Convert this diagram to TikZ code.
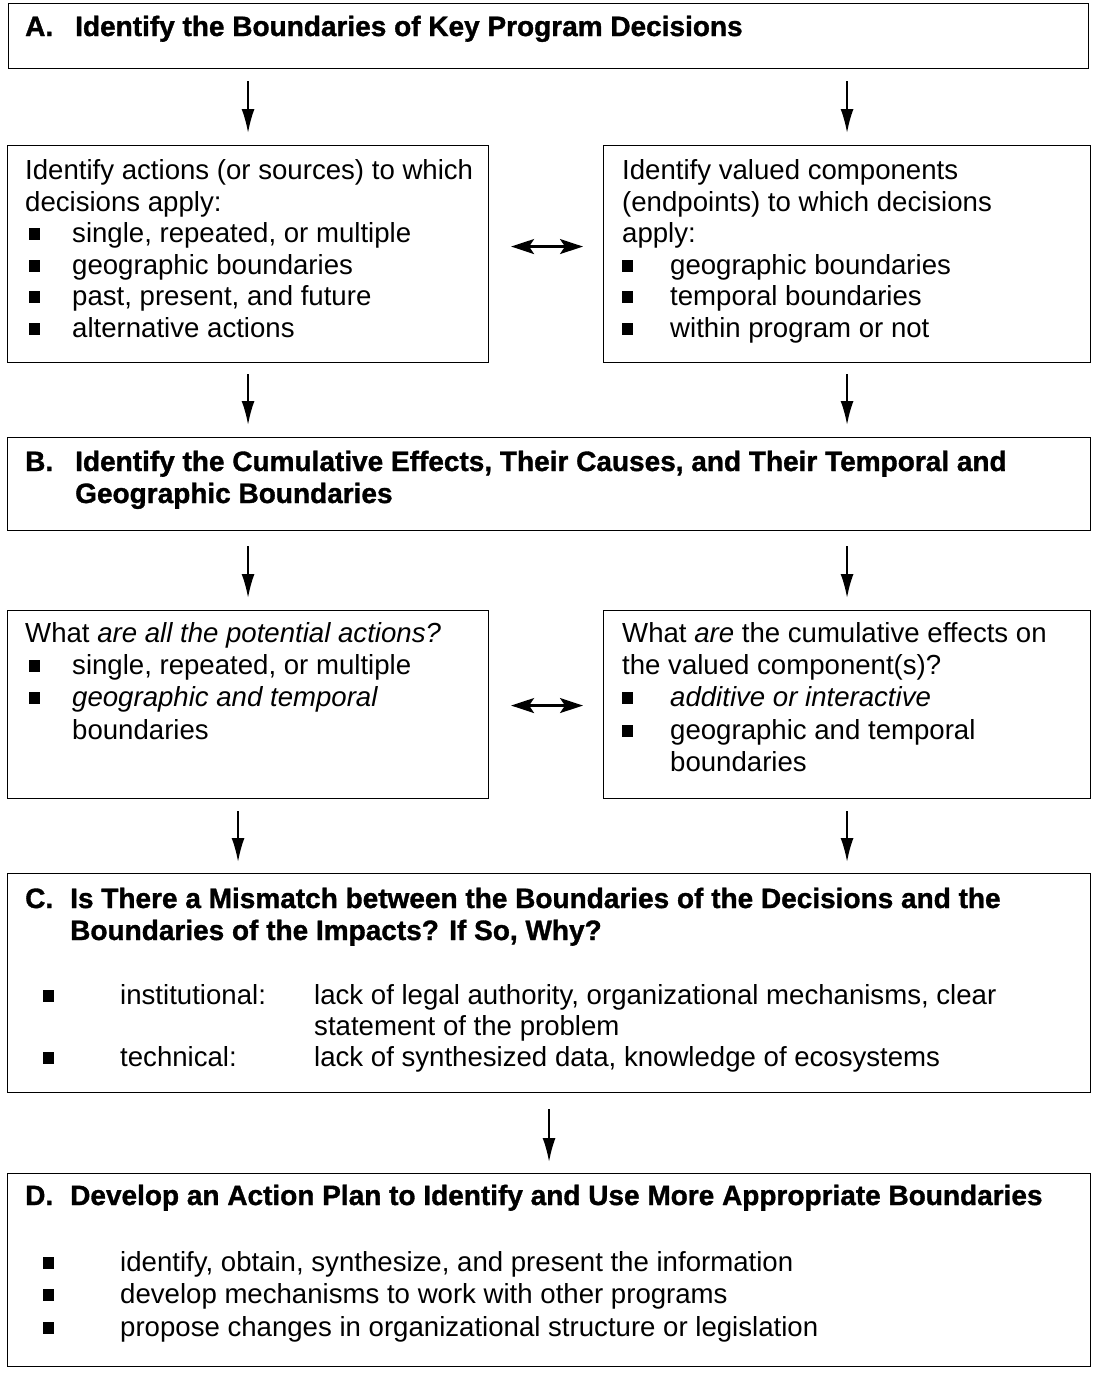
\documentclass[tikz,border=0pt]{standalone}
\usepackage{fontspec}
\setmainfont{Liberation Sans}
\newfontfamily\headfont[FakeBold=1.2]{Liberation Sans Bold}
\usetikzlibrary{arrows.meta}

\newcommand{\bodysize}{\fontsize{27.6}{32}\selectfont}
\newcommand{\headsize}{\headfont\fontsize{28}{32}\selectfont}

\tikzset{
  box/.style={draw, line width=1.1pt, inner sep=0pt, anchor=north west},
  txt/.style={anchor=base west, inner sep=0pt, font=\bodysize},
  hd/.style={anchor=base west, inner sep=0pt, font=\headsize},
  bul/.style={fill=black, inner sep=0pt, minimum width=11pt, minimum height=11.5pt, anchor=center},
  arr/.style={line width=2pt, -{Latex[length=24pt,width=13pt]}},
  darr/.style={line width=2.2pt, {Stealth[length=23pt,width=15pt,inset=5pt]}-{Stealth[length=23pt,width=15pt,inset=5pt]}},
}

\begin{document}
\begin{tikzpicture}[x=1pt,y=-1pt]
\useasboundingbox (0,0) rectangle (1093,1374);

% boxes
\node[box, minimum width=1080pt, minimum height=65pt]  (A)  at (8,3) {};
\node[box, minimum width=481pt,  minimum height=217pt] (L1) at (7,145) {};
\node[box, minimum width=487pt,  minimum height=217pt] (R1) at (603,145) {};
\node[box, minimum width=1083pt, minimum height=93pt]  (B)  at (7,437) {};
\node[box, minimum width=481pt,  minimum height=188pt] (L2) at (7,610) {};
\node[box, minimum width=487pt,  minimum height=188pt] (R2) at (603,610) {};
\node[box, minimum width=1083pt, minimum height=219pt] (C)  at (7,873) {};
\node[box, minimum width=1083pt, minimum height=193pt] (D)  at (7,1173) {};

% step A
\node[hd] (Ak) at (25,36) {A.};
\node[hd] (At) at (75,36) {Identify the Boundaries of Key Program Decisions};

% actions to which decisions apply
\node[txt] (L1a) at (25,179) {Identify actions (or sources) to which};
\node[txt] (L1b) at (25,211) {decisions apply:};
\node[bul] (L1p1) at (34,234) {}; \node[txt] (L1c) at (72,242) {single, repeated, or multiple};
\node[bul] (L1p2) at (34,266) {}; \node[txt] (L1d) at (72,274) {geographic boundaries};
\node[bul] (L1p3) at (34,297) {}; \node[txt] (L1e) at (72,305) {past, present, and future};
\node[bul] (L1p4) at (34,329) {}; \node[txt] (L1f) at (72,337) {alternative actions};

% valued components
\node[txt] (R1a) at (622,179) {Identify valued components};
\node[txt] (R1b) at (622,211) {(endpoints) to which decisions};
\node[txt] (R1c) at (622,242) {apply:};
\node[bul] (R1p1) at (627,266) {}; \node[txt] (R1d) at (670,274) {geographic boundaries};
\node[bul] (R1p2) at (627,297) {}; \node[txt] (R1e) at (670,305) {temporal boundaries};
\node[bul] (R1p3) at (627,329) {}; \node[txt] (R1f) at (670,337) {within program or not};

% step B
\node[hd] (Bk) at (25,471) {B.};
\node[hd] (Bt1) at (75,471) {Identify the Cumulative Effects, Their Causes, and Their Temporal and};
\node[hd] (Bt2) at (75,503) {Geographic Boundaries};

% potential actions
\node[txt] (L2a) at (25,642) {What \textit{are all the potential actions?}};
\node[bul] (L2p1) at (34,666) {}; \node[txt] (L2b) at (72,674) {single, repeated, or multiple};
\node[bul] (L2p2) at (34,698) {}; \node[txt] (L2c) at (72,706) {\textit{geographic and temporal}};
\node[txt] (L2d) at (72,739) {boundaries};

% cumulative effects
\node[txt] (R2a) at (622,642) {What \textit{are} the cumulative effects on};
\node[txt] (R2b) at (622,674) {the valued component(s)?};
\node[bul] (R2p1) at (627,698) {}; \node[txt] (R2c) at (670,706) {\textit{additive or interactive}};
\node[bul] (R2p2) at (627,731) {}; \node[txt] (R2d) at (670,739) {geographic and temporal};
\node[txt] (R2e) at (670,771) {boundaries};

% step C
\node[hd] (Ck) at (25,908) {C.};
\node[hd] (Ct1) at (70,908) {Is There a Mismatch between the Boundaries of the Decisions and the};
\node[hd] (Ct2) at (70,940) {Boundaries of the Impacts? If So, Why?};
\node[bul] (Cp1) at (48,996) {}; \node[txt] (Ca) at (120,1004) {institutional:};
\node[txt] (Cb) at (314,1004) {lack of legal authority, organizational mechanisms, clear};
\node[txt] (Cc) at (314,1035) {statement of the problem};
\node[bul] (Cp2) at (48,1058) {}; \node[txt] (Cd) at (120,1066) {technical:};
\node[txt] (Ce) at (314,1066) {lack of synthesized data, knowledge of ecosystems};

% step D
\node[hd] (Dk) at (25,1205) {D.};
\node[hd] (Dt) at (70,1205) {Develop an Action Plan to Identify and Use More Appropriate Boundaries};
\node[bul] (Dp1) at (48,1263) {}; \node[txt] (Da) at (120,1271) {identify, obtain, synthesize, and present the information};
\node[bul] (Dp2) at (48,1295) {}; \node[txt] (Db) at (120,1303) {develop mechanisms to work with other programs};
\node[bul] (Dp3) at (48,1328) {}; \node[txt] (Dc) at (120,1336) {propose changes in organizational structure or legislation};

% flow arrows
\draw[arr, shorten <=12pt, shorten >=12pt] (A.south -| L1.north) -- (L1.north);
\draw[arr, shorten <=12pt, shorten >=12pt] (A.south -| R1.north) -- (R1.north);
\draw[arr, shorten <=11pt, shorten >=12pt] (L1.south) -- (L1.south |- B.north);
\draw[arr, shorten <=11pt, shorten >=12pt] (R1.south) -- (R1.south |- B.north);
\draw[arr, shorten <=15pt, shorten >=12pt] (B.south -| L2.north) -- (L2.north);
\draw[arr, shorten <=15pt, shorten >=12pt] (B.south -| R2.north) -- (R2.north);
\draw[arr, shorten <=12pt, shorten >=11pt] ([xshift=-10pt]L2.south) -- ([xshift=-10pt]L2.south |- C.north);
\draw[arr, shorten <=12pt, shorten >=11pt] (R2.south) -- (R2.south |- C.north);
\draw[arr, shorten <=16pt, shorten >=11pt] (C.south) -- (C.south |- D.north);

% two-way links
\draw[darr, shorten <=22pt, shorten >=20pt] ([yshift=7.5pt]L1.east) -- ([yshift=7.5pt]L1.east -| R1.west);
\draw[darr, shorten <=22pt, shorten >=20pt] ([yshift=-1pt]L2.east) -- ([yshift=-1pt]L2.east -| R2.west);
\end{tikzpicture}
\end{document}
